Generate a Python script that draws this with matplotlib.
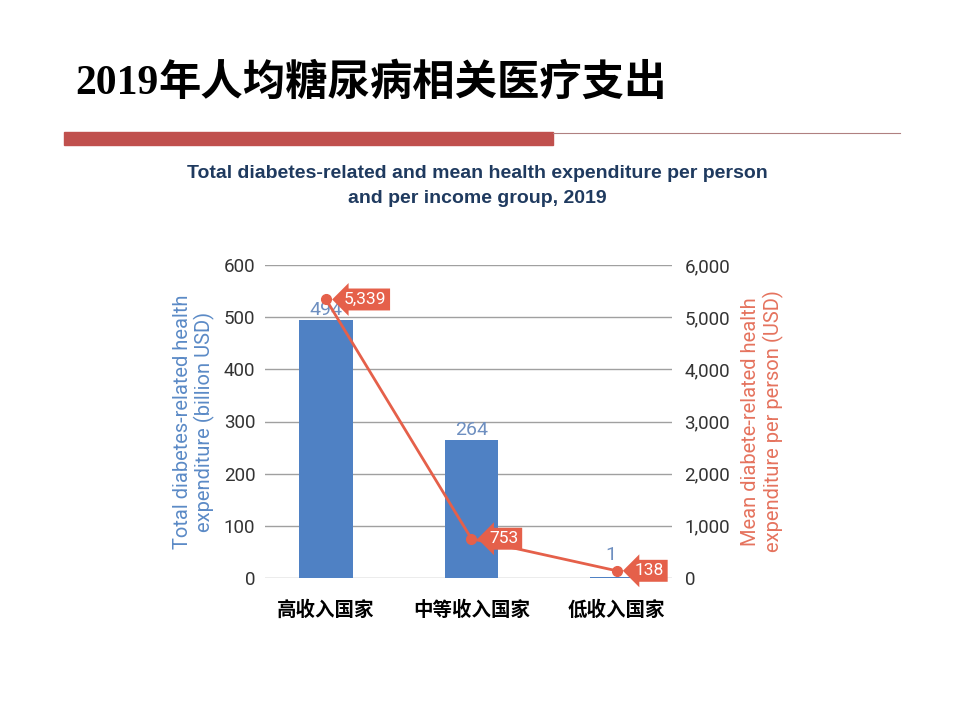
import matplotlib
matplotlib.use('Agg')
import matplotlib.pyplot as plt
from matplotlib.ticker import FuncFormatter

plt.rcParams['font.family'] = ['Roboto', 'Noto Sans CJK SC', 'DejaVu Sans']

groups = ['高收入国家', '中等收入国家', '低收入国家']
total_bn = [494, 264, 1]          # billion USD, left axis
per_person = [5339, 753, 138]     # USD per person, right axis
left_ticks = [0, 100, 200, 300, 400, 500, 600]
right_ticks = [0, 1000, 2000, 3000, 4000, 5000, 6000]

bar_blue = '#4f81c4'
label_blue = '#6e8fc0'
line_red = '#e5604a'
grid_grey = '#a0a0a0'

fig = plt.figure(figsize=(9.6, 7.2), dpi=100)
fig.patch.set_facecolor('white')

# slide header
fig.text(75 / 960, 1 - 84 / 720, '2019', family='Liberation Serif', weight='bold',
         fontsize=30, va='center', ha='left')
fig.text(158 / 960, 1 - 83 / 720, '年人均糖尿病相关医疗支出', family='Noto Sans CJK SC',
         weight='black', fontsize=30.5, va='center', ha='left')
fig.patches.append(plt.Rectangle((64 / 960, 1 - 145 / 720), (553 - 64) / 960, 13 / 720,
                                 transform=fig.transFigure, color='#c0504d'))
fig.lines.append(plt.Line2D([553 / 960, 900 / 960], [1 - 133 / 720, 1 - 133 / 720],
                            transform=fig.transFigure, color='#b08080', lw=0.8))

fig.text(477 / 960, 1 - 186 / 720,
         'Total diabetes-related and mean health expenditure per person\nand per income group, 2019',
         family='Liberation Sans', weight='bold', fontsize=14, color='#1f3a5f',
         ha='center', va='center', linespacing=1.55)

ax = fig.add_axes([265 / 960, 1 - 578 / 720, (672 - 265) / 960, (578 - 265) / 720])
x = list(range(len(groups)))
ax.bar(x, total_bn, width=0.37, color=bar_blue, zorder=2)
ax.set_xlim(-0.42, 2.38)
ax.set_ylim(0, 600)
ax.set_yticks(left_ticks)
ax.yaxis.grid(True, color=grid_grey, lw=1, zorder=0)
ax.set_axisbelow(True)
for s in ax.spines.values():
    s.set_visible(False)
ax.tick_params(axis='both', length=0)
ax.tick_params(axis='y', labelsize=13.5, labelcolor='#333333', pad=7)
ax.set_xticks(x)
ax.set_xticklabels(groups, family='Noto Sans CJK SC', weight='bold', fontsize=14)
ax.tick_params(axis='x', pad=16)
for xi, v in zip(x, total_bn):
    dy = 1 if v > 50 else 10
    ax.annotate(str(v), (xi, v), xytext=(-4 if v <= 50 else 0, dy), textcoords='offset points',
                ha='center', va='bottom', fontsize=14, color=label_blue, zorder=5)
ax.set_ylabel('Total diabetes-related health\nexpenditure (billion USD)', color='#5b8ac6',
              fontsize=14.5, labelpad=6, linespacing=1.15)

ax2 = ax.twinx()
ax2.set_ylim(0, 6000)
ax2.set_yticks(right_ticks)
ax2.yaxis.set_major_formatter(FuncFormatter(lambda v, p: f'{int(v):,}'))
for s in ax2.spines.values():
    s.set_visible(False)
ax2.tick_params(axis='y', length=0, labelsize=13.5, labelcolor='#333333', pad=9)
ax2.plot(x, per_person, color=line_red, lw=2, marker='o', markersize=7, zorder=3)
for xi, v in zip(x, per_person):
    ax2.annotate(f'{v:,}', (xi, v), xytext=(13, 0), textcoords='offset points',
                 ha='left', va='center', fontsize=12.5, color='white',
                 bbox=dict(boxstyle='larrow,pad=0.2', fc=line_red, ec='none'))
ax2.set_ylabel('Mean diabete-related health\nexpenditure per person (USD)', color='#e5735e',
               fontsize=14.5, rotation=90, labelpad=8, linespacing=1.15)

fig.savefig('out.png', dpi=100)
